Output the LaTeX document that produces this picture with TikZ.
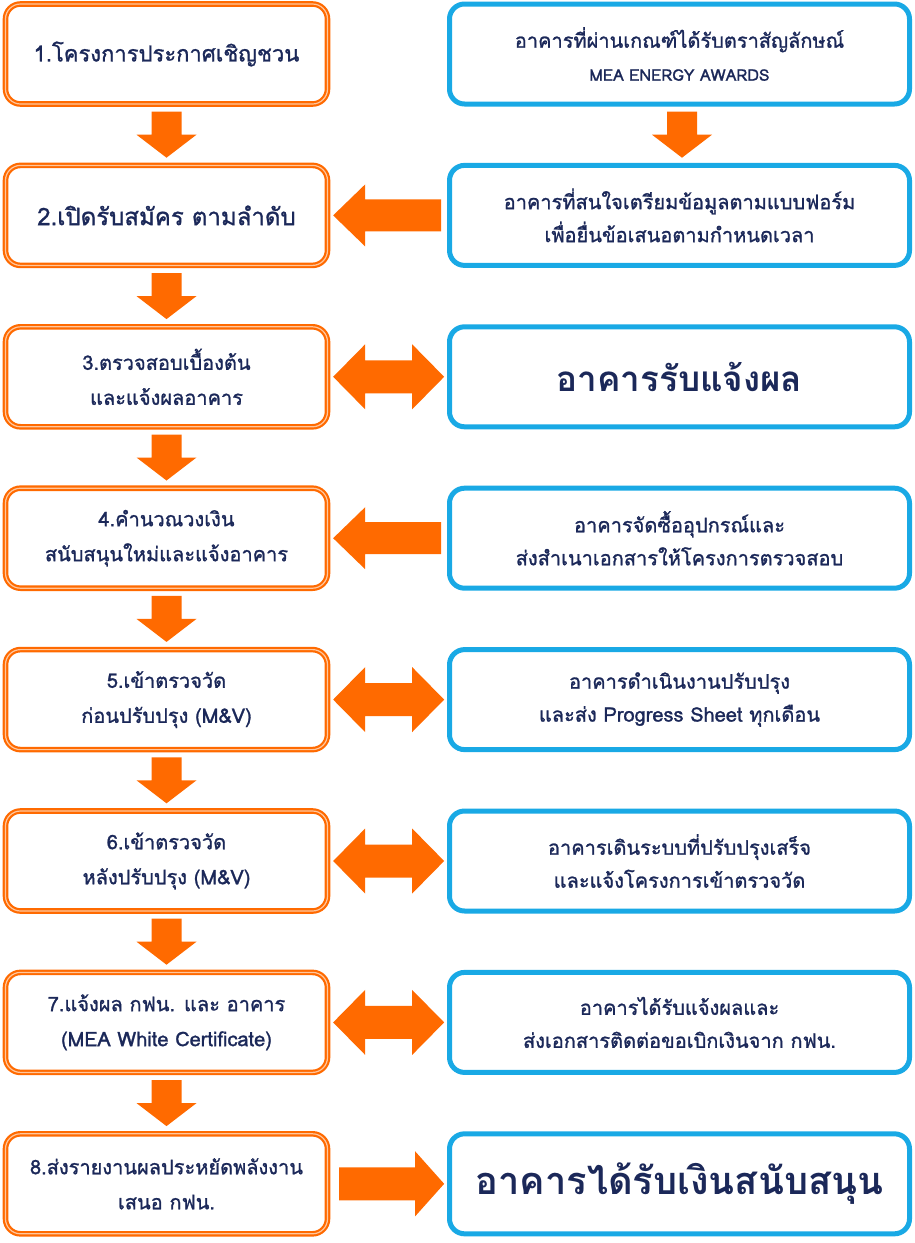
\documentclass[tikz,border=0pt]{standalone}
\usepackage{fontspec}
\setmainfont[Script=Thai]{Loma}
\newfontfamily\thaimed[Script=Thai,FakeBold=1.2]{Loma}
\usetikzlibrary{arrows.meta,calc}
\definecolor{orangeC}{HTML}{FF6A00}
\definecolor{orangeL}{HTML}{FFC79E}
\definecolor{blueC}{HTML}{19A9E5}
\definecolor{navyC}{HTML}{1B2859}
\begin{document}
\begin{tikzpicture}[x=1pt,y=-1pt,
  lbox/.style={rectangle, rounded corners=15pt, draw=orangeC, double=orangeL,
    double distance=1.2pt, line width=2.2pt, outer sep=2.8pt,
    minimum width=322pt, minimum height=100pt, inner sep=0pt, align=center,
    text=navyC, fill=white, font=\thaimed\fontsize{20}{35}\selectfont},
  rbox/.style={rectangle, rounded corners=15pt, draw=blueC, line width=5pt,
    minimum width=460pt, minimum height=100pt, inner sep=0pt, align=center,
    text=navyC, fill=white, font=\thaimed\fontsize{20}{33}\selectfont},
  arrfill/.style={fill=orangeC, draw=none},
  pics/downarr/.style={code={
    \fill[arrfill] (-15,-23) -- (15,-23) -- (15,0) -- (30,0) -- (0,23)
      -- (-30,0) -- (-15,0) -- cycle;}},
  pics/leftarr/.style={code={
    \fill[arrfill] (52.5,-16) -- (52.5,16) -- (-23.5,16) -- (-23.5,31)
      -- (-55.5,0) -- (-23.5,-31) -- (-23.5,-16) -- cycle;}},
  pics/rightarr/.style={code={
    \fill[arrfill] (-49.5,-16.5) -- (-49.5,16.5) -- (26.5,16.5) -- (26.5,32.5)
      -- (55.5,0) -- (26.5,-32.5) -- (26.5,-16.5) -- cycle;}},
  pics/dblarr/.style={code={
    \fill[arrfill] (-55.5,0) -- (-23.5,-32.5) -- (-23.5,-16.5) -- (23.5,-16.5)
      -- (23.5,-32.5) -- (55.5,0) -- (23.5,32.5) -- (23.5,16.5)
      -- (-23.5,16.5) -- (-23.5,32.5) -- cycle;}}
]
\fill[white] (0,0) rectangle (915,1243);
\useasboundingbox (0,0) rectangle (915,1243);

% left column
\node[lbox, font=\thaimed\fontsize{22}{30}\selectfont] (b1) at (166.5,54) {1.โครงการประกาศเชิญชวน};
\node[lbox, font=\thaimed\fontsize{24}{30}\selectfont] (b2) at (166.5,215.4) {2.เปิดรับสมัคร ตามลำดับ};
\node[lbox] (b3) at (166.5,376.8) {3.ตรวจสอบเบื้องต้น\\และแจ้งผลอาคาร};
\node[lbox] (b4) at (166.5,538.2) {4.คำนวณวงเงิน\\สนับสนุนใหม่และแจ้งอาคาร};
\node[lbox] (b5) at (166.5,699.6) {5.เข้าตรวจวัด\\ก่อนปรับปรุง (M\&V)};
\node[lbox] (b6) at (166.5,861) {6.เข้าตรวจวัด\\หลังปรับปรุง (M\&V)};
\node[lbox] (b7) at (166.5,1022.4) {7.แจ้งผล กฟน. และ อาคาร\\(MEA White Certificate)};
\node[lbox] (b8) at (166.5,1183.8) {8.ส่งรายงานผลประหยัดพลังงาน\\เสนอ กฟน.};

% right column
\node[rbox] (r1) at (679.5,54) {อาคารที่ผ่านเกณฑ์ได้รับตราสัญลักษณ์\\{\fontsize{16}{33}\selectfont MEA ENERGY AWARDS}};
\node[rbox] (r2) at (679.5,215.4) {อาคารที่สนใจเตรียมข้อมูลตามแบบฟอร์ม\\เพื่อยื่นข้อเสนอตามกำหนดเวลา};
\node[rbox, font=\fontsize{35}{40}\selectfont\bfseries] (r3) at (679.5,376.8) {อาคารรับแจ้งผล};
\node[rbox] (r4) at (679.5,538.2) {อาคารจัดซื้ออุปกรณ์และ\\ส่งสำเนาเอกสารให้โครงการตรวจสอบ};
\node[rbox] (r5) at (679.5,699.6) {อาคารดำเนินงานปรับปรุง\\และส่ง Progress Sheet ทุกเดือน};
\node[rbox] (r6) at (679.5,861) {อาคารเดินระบบที่ปรับปรุงเสร็จ\\และแจ้งโครงการเข้าตรวจวัด};
\node[rbox] (r7) at (679.5,1022.4) {อาคารได้รับแจ้งผลและ\\ส่งเอกสารติดต่อขอเบิกเงินจาก กฟน.};
\node[rbox, font=\fontsize{38}{44}\selectfont\bfseries] (r8) at (679.5,1183.8) {อาคารได้รับเงินสนับสนุน};

% vertical arrows
\pic at ($(b1.south)!0.5!(b2.north)$) {downarr};
\pic at ($(b2.south)!0.5!(b3.north)$) {downarr};
\pic at ($(b3.south)!0.5!(b4.north)$) {downarr};
\pic at ($(b4.south)!0.5!(b5.north)$) {downarr};
\pic at ($(b5.south)!0.5!(b6.north)$) {downarr};
\pic at ($(b6.south)!0.5!(b7.north)$) {downarr};
\pic at ($(b7.south)!0.5!(b8.north)$) {downarr};
\pic at ($([xshift=2.5pt]r1.south)!0.5!([xshift=2.5pt]r2.north)$) {downarr};

% horizontal arrows
\pic at ($(b2.east)!0.5!(r2.west)$) {leftarr};
\pic at ($(b3.east)!0.5!(r3.west)$) {dblarr};
\pic at ($(b4.east)!0.5!(r4.west)$) {leftarr};
\pic at ($(b5.east)!0.5!(r5.west)$) {dblarr};
\pic at ($(b6.east)!0.5!(r6.west)$) {dblarr};
\pic at ($(b7.east)!0.5!(r7.west)$) {dblarr};
\pic at ($(b8.east)!0.5!(r8.west)$) {rightarr};
\end{tikzpicture}
\end{document}
